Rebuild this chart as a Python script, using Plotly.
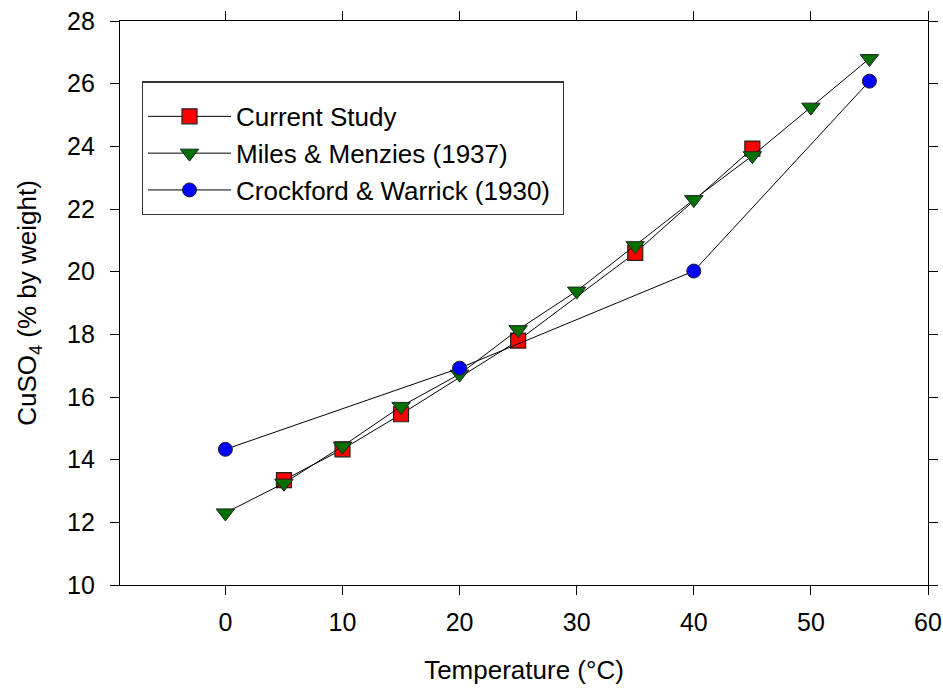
import plotly.graph_objects as go

# Data
cur_t = [5, 10, 15, 25, 35, 45]
cur_v = [13.35, 14.33, 15.45, 17.8, 20.6, 23.93]

mm_t = [0, 5, 10, 15, 20, 25, 30, 35, 40, 45, 50, 55]
mm_v = [12.3, 13.25, 14.43, 15.7, 16.73, 18.15, 19.38, 20.83, 22.3, 23.7, 25.25, 26.8]

cw_t = [0, 20, 40, 55]
cw_v = [14.33, 16.92, 20.02, 26.08]

x_ticks = [0, 10, 20, 30, 40, 50, 60]
y_ticks = [10, 12, 14, 16, 18, 20, 22, 24, 26, 28]

FONT = "Liberation Sans, Arial, sans-serif"
FS_TICK = 25
FS_TXT = 26
fig = go.Figure()

fig.add_trace(go.Scatter(
    x=cur_t, y=cur_v, mode="lines+markers", name="Current Study",
    line=dict(color="black", width=1),
    marker=dict(symbol="square", size=15, color="#ff0000", line=dict(color="#222", width=1.2)),
))
fig.add_trace(go.Scatter(
    x=mm_t, y=mm_v, mode="lines+markers", name="Miles &amp; Menzies (1937)",
    line=dict(color="black", width=1),
    marker=dict(symbol="triangle-down", size=16, color="#007000", line=dict(color="#222", width=1)),
))
fig.add_trace(go.Scatter(
    x=cw_t, y=cw_v, mode="lines+markers", name="Crockford &amp; Warrick (1930)&nbsp;",
    line=dict(color="black", width=1),
    marker=dict(symbol="circle", size=14, color="#0000ff", line=dict(color="#222", width=1)),
))

axis_common = dict(
    showgrid=False, zeroline=False, showline=True, linecolor="black", linewidth=1.3,
    ticklen=9, tickwidth=1, tickcolor="black", automargin=False,
    tickfont=dict(family=FONT, size=FS_TICK, color="black"),
)

fig.update_layout(
    width=943, height=690,
    margin=dict(l=120, r=15, t=21, b=105, autoexpand=False),
    paper_bgcolor="white", plot_bgcolor="white",
    font=dict(family=FONT, size=FS_TXT, color="black"),
    showlegend=True,
    legend=dict(
        x=0.027, y=0.893, xanchor="left", yanchor="top",
        bgcolor="white", bordercolor="#333", borderwidth=1.2,
        font=dict(family=FONT, size=FS_TXT, color="black"),
        tracegroupgap=0, itemwidth=83,
        title=dict(text=" ", font=dict(size=8)),
    ),
    xaxis=dict(
        **axis_common, range=[-9, 60], tickvals=x_ticks, ticks="outside", mirror="ticks",
        ticklabelstandoff=6,
        title=dict(text="Temperature (°C)", font=dict(family=FONT, size=FS_TXT), standoff=25),
    ),
    yaxis=dict(
        **axis_common, range=[10, 28], tickvals=y_ticks, ticks="outside", mirror="ticks",
        ticklabelstandoff=10,
        title=dict(text="CuSO<sub>4</sub> (% by weight)", font=dict(family=FONT, size=FS_TXT), standoff=22),
    ),
    xaxis2=dict(
        **axis_common, range=[-9, 60], tickvals=x_ticks, ticks="inside", mirror="ticks",
        overlaying="x", showticklabels=False, side="bottom",
    ),
    yaxis2=dict(
        **axis_common, range=[10, 28], tickvals=y_ticks, ticks="inside", mirror="ticks",
        overlaying="y", showticklabels=False, side="left",
    ),
)

fig.write_html("out.html")
